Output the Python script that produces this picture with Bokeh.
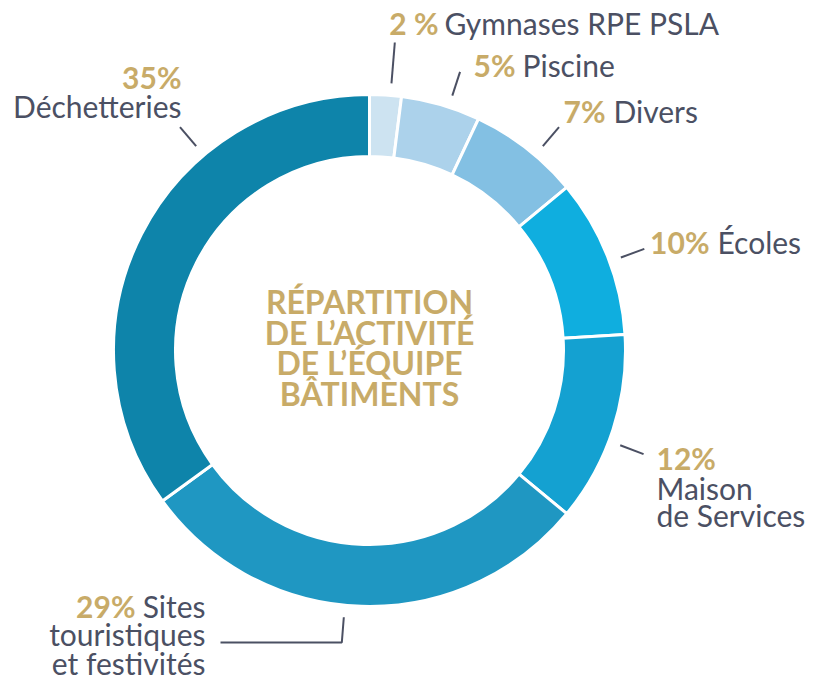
import math
from bokeh.plotting import figure
from bokeh.models import Range1d, ColumnDataSource
from bokeh.core.properties import value
from bokeh.embed import file_html
from bokeh.resources import INLINE

# ---- data (clockwise from 12 o'clock) ----
categories = ["Gymnases RPE PSLA", "Piscine", "Divers", "Écoles",
              "Maison de Services", "Sites touristiques et festivités", "Déchetteries"]
shares = [2, 5, 7, 10, 12, 29, 35]
pct_texts = ["2 %", "5%", "7%", "10%", "12%", "29%", "35%"]
colors = ["#cde3f1", "#acd2eb", "#83c0e3", "#0faedf", "#14a1d1", "#1f97c2", "#0e84aa"]
title_lines = ["RÉPARTITION", "DE L’ACTIVITÉ", "DE L’ÉQUIPE", "BÂTIMENTS"]

GOLD = "#c8ab68"
GRAY = "#4b5063"
FONT = "Lato"

W, H = 822, 679
p = figure(width=W, height=H, output_backend="svg", toolbar_location=None,
           x_range=Range1d(0, W), y_range=Range1d(-H, 0),
           min_border=0)
p.axis.visible = False
p.grid.visible = False
p.outline_line_color = None
p.background_fill_color = "white"
p.border_fill_color = "white"

# ---- donut ----
cx, cy = 369, -350
r_in, r_out = 194, 256
total = float(sum(shares))
starts, ends = [], []
cum = 0.0
for s in shares:
    a0 = math.pi / 2 - 2 * math.pi * (cum + s) / total
    a1 = math.pi / 2 - 2 * math.pi * cum / total
    starts.append(a0)
    ends.append(a1)
    cum += s
src = ColumnDataSource(dict(x=[cx] * len(shares), y=[cy] * len(shares),
                            start=starts, end=ends, color=colors, cat=categories))
p.annular_wedge(x="x", y="y", inner_radius=r_in, outer_radius=r_out,
                start_angle="start", end_angle="end", fill_color="color",
                line_color="white", line_width=3, source=src)

# ---- leader lines (angle clockwise from top in degrees, layout only) ----
leader_angles = [4.7, 18.0, 40.3, 69.7, 110.7, 185.5, 319.7]
r1, r2 = 268, 293
xs, ys = [], []
for i, ang in enumerate(leader_angles):
    t = math.radians(ang)
    x1, y1 = cx + r1 * math.sin(t), cy + r1 * math.cos(t)
    if i == 5:  # bent leader for "Sites"
        xs.append([x1, x1 - 2, 220])
        ys.append([y1, -642, -642])
    else:
        rr = 309 if i == 0 else r2
        x2, y2 = cx + rr * math.sin(t), cy + rr * math.cos(t)
        xs.append([x1, x2])
        ys.append([y1, y2])
p.multi_line(xs=xs, ys=ys, line_color=GRAY, line_width=2)

# ---- labels (layout positions in page pixels) ----
DY = 10  # rendering baseline correction

def txt(x, y, t, color, bold, align, size="30px"):
    p.text(x=[x], y=[-(y - DY)], text=[t], text_color=color, text_font=value(FONT),
           text_font_size=size, text_font_style="bold" if bold else "normal",
           text_align=align, text_baseline="alphabetic")

# Gymnases
txt(438, 32, pct_texts[0], GOLD, True, "right")
txt(444, 32, "Gymnases RPE PSLA", GRAY, False, "left")
# Piscine
txt(515, 74, pct_texts[1], GOLD, True, "right")
txt(522, 74, "Piscine", GRAY, False, "left")
# Divers
txt(605, 120, pct_texts[2], GOLD, True, "right")
txt(613, 120, "Divers", GRAY, False, "left")
# Écoles
txt(709, 251, pct_texts[3], GOLD, True, "right")
txt(717, 251, "Écoles", GRAY, False, "left")
# Maison de Services
txt(656, 467, pct_texts[4], GOLD, True, "left")
txt(656, 497, "Maison", GRAY, False, "left")
txt(656, 524, "de Services", GRAY, False, "left")
# Sites touristiques
txt(135, 615, pct_texts[5], GOLD, True, "right")
txt(205, 615, "Sites", GRAY, False, "right")
txt(205, 643, "touristiques", GRAY, False, "right")
txt(205, 672, "et festivités", GRAY, False, "right")
# Déchetteries
txt(181, 86, pct_texts[6], GOLD, True, "right")
txt(181, 115, "Déchetteries", GRAY, False, "right")

# ---- centre title ----
for k, line in enumerate(title_lines):
    txt(369, 311 + 30.7 * k, line, GOLD, True, "center", size="32px")

open("out.html", "w").write(file_html(p, INLINE))
